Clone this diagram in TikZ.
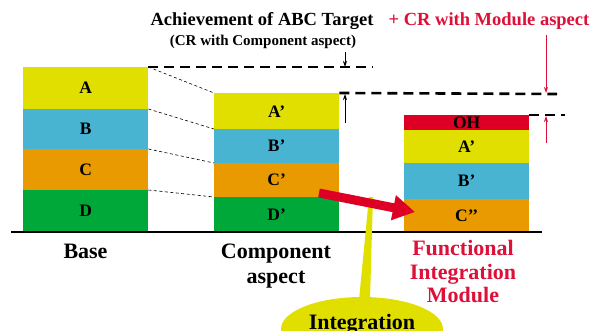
\documentclass[tikz,border=0pt]{standalone}
\usepackage{fontspec}
\setmainfont{Liberation Serif}
\usetikzlibrary{arrows.meta,shapes.geometric}
\definecolor{byellow}{RGB}{225,223,0}
\definecolor{bblue}{RGB}{72,180,210}
\definecolor{borange}{RGB}{232,154,0}
\definecolor{bgreen}{RGB}{0,168,58}
\definecolor{bred}{RGB}{222,0,36}
\definecolor{tred}{RGB}{220,16,56}
\begin{document}
\begin{tikzpicture}[x=1pt,y=-1pt,
  band/.style={draw=none, inner sep=0pt, anchor=north west,
    font=\fontsize{17.5}{17.5}\selectfont\bfseries},
  basecol/.style={band, minimum width=125pt},
  linkdash/.style={black, line width=0.6pt, dash pattern=on 3pt off 2.5pt},
  leveldash/.style={black, line width=2.6pt, dash pattern=on 10pt off 6pt},
  mark arrow/.style={line width=0.8pt, -{Stealth[length=6pt,width=4pt]}},
  caption/.style={align=center, inner sep=0pt, font=\fontsize{22}{24.5}\selectfont\bfseries},
  title/.style={inner sep=0pt, font=\fontsize{18.5}{20}\selectfont\bfseries}]
\useasboundingbox (0,0) rectangle (606,331);

% base stack
\node[basecol, fill=byellow, minimum height=42pt] (bA) at (23,67) {A};
\node[basecol, fill=bblue,   minimum height=40pt] (bB) at (23,109) {B};
\node[basecol, fill=borange, minimum height=41pt] (bC) at (23,149) {C};
\node[basecol, fill=bgreen,  minimum height=42pt] (bD) at (23,190) {D};

% component stack
\node[basecol, fill=byellow, minimum height=36pt] (cA) at (214,93) {A’};
\node[basecol, fill=bblue,   minimum height=34pt] (cB) at (214,129) {B’};
\node[basecol, fill=borange, minimum height=34pt] (cC) at (214,163) {C’};
\node[basecol, fill=bgreen,  minimum height=35pt] (cD) at (214,197) {D’};

% module stack
\node[basecol, fill=bred,    minimum height=15pt] (mO) at (404,115) {OH};
\node[basecol, fill=byellow, minimum height=33pt] (mA) at (404,130) {A’};
\node[basecol, fill=bblue,   minimum height=36pt] (mB) at (404,163) {B’};
\node[basecol, fill=borange, minimum height=33pt] (mC) at (404,199) {C’’};

% ground line
\coordinate (g0) at (11,232);
\coordinate (g1) at (542,232);
\draw[line width=2pt] (g0) -- (g1);

% thin links between the stacks
\draw[linkdash] (bA.north east) -- (cA.north west);
\draw[linkdash] (bB.north east) -- (cB.north west);
\draw[linkdash] (bC.north east) -- (cC.north west);
\draw[linkdash] (bD.north east) -- (cD.north west);

% level lines
\coordinate (l1) at (373,67);
\coordinate (l2) at (557,94);
\coordinate (l3) at (565,115);
\draw[leveldash] (bA.north east) -- (l1);
\draw[leveldash] (cA.north east) -- (l2);
\draw[leveldash] (mO.north east) -- (l3);

% titles
\node[title] (t1) at (262,21) {Achievement of ABC Target};
\node[title, text=tred] (t2) at (489,21) {+ CR with Module aspect};
\node[inner sep=0pt, font=\fontsize{15}{16}\selectfont\bfseries] (t3) at (263,42) {(CR with Component aspect)};

% level markers
\coordinate (a1s) at (345,52);
\coordinate (a1e) at (345,67);
\coordinate (a2s) at (345,123);
\coordinate (a2e) at (345,94);
\coordinate (p1s) at (546,35);
\coordinate (p1e) at (546,93);
\coordinate (p2s) at (546,143);
\coordinate (p2e) at (546,116);
\draw[mark arrow] (a1s) -- (a1e);
\draw[mark arrow] (a2s) -- (a2e);
\draw[mark arrow, tred] (p1s) -- (p1e);
\draw[mark arrow, tred] (p2s) -- (p2e);

% captions
\node[caption] (capB) at (85.5,251) {Base};
\node[caption] (capC) at (276,266) {Component\\aspect};
\node[caption, text=tred, font=\fontsize{22}{23.5}\selectfont\bfseries] (capM) at (463,272) {Functional\\Integration\\Module};

% integration callout
\node[ellipse, fill=byellow, minimum width=162pt, minimum height=64pt, inner sep=0pt] (integ) at (362,329) {};
\fill[byellow] (369,197) -- (373,197) -- (370,300) -- (359,300) -- cycle;
\node[inner sep=0pt, font=\fontsize{22}{24}\selectfont\bfseries] (integT) at (362,324) {Integration};

% integration arrow
\coordinate (r0) at (319,193);
\coordinate (r1) at (415,212);
\draw[bred, line width=9pt, -{Triangle[length=22pt,width=24pt]}] (r0) -- (r1);
\end{tikzpicture}
\end{document}
